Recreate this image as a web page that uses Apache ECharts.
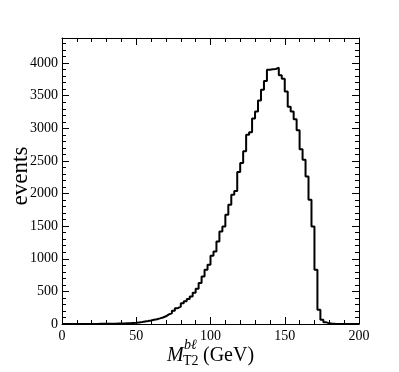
<!DOCTYPE html>
<html>
<head>
<meta charset="utf-8">
<script src="https://cdn.jsdelivr.net/npm/echarts@6/dist/echarts.min.js"></script>
<style>html,body{margin:0;padding:0;background:#fff;}#c{width:399px;height:372px;}</style>
</head>
<body>
<div id="c"></div>
<script>
// Bin lower edges (GeV), bin width 2 GeV
var binEdges = [0,2,4,6,8,10,12,14,16,18,20,22,24,26,28,30,32,34,36,38,40,42,44,46,48,50,52,54,56,58,60,62,64,66,68,70,72,74,76,78,80,82,84,86,88,90,92,94,96,98,100,102,104,106,108,110,112,114,116,118,120,122,124,126,128,130,132,134,136,138,140,142,144,146,148,150,152,154,156,158,160,162,164,166,168,170,172,174,176,178,180,182,184,186,188,190,192,194,196,198];
var histEnd = 200;
// Event counts per bin
var events = [0,0,0,0,0,0,0,0,0,0,
  1,1,2,2,3,3,4,5,6,7,
  8,10,12,15,18,24,30,38,46,55,
  65,74,86,100,118,148,165,205,242,268,
  318,350,385,420,478,540,628,730,832,909,
  1047,1113,1266,1420,1496,1676,1829,1982,2040,2330,
  2470,2650,2900,2940,3150,3260,3425,3590,3725,3900,
  3905,3910,3930,3815,3760,3566,3330,3260,3140,2970,
  2680,2520,2263,1906,1496,832,219,66,25,10,
  5,2,1,0,0,0,0,0,0,0];
var xTicks = [0,50,100,150,200];
var yTicks = [0,500,1000,1500,2000,2500,3000,3500,4000];
var xLabel = {sym:'M', sup:'b\u2113', sub:'T2', unit:'(GeV)'};
var yLabel = 'events';

var data = binEdges.map(function(x,i){return [x, events[i]];});
data.push([histEnd, events[events.length-1]]);

var font = "'Liberation Serif', 'DejaVu Serif', serif";
var yMax = 4385;
function xAx(pos, labels){
  return {type:'value', min:xTicks[0], max:xTicks[xTicks.length-1], interval:50, position:pos,
    axisLine:{show:true,onZero:false,lineStyle:{color:'#000',width:1}},
    axisTick:{show:true,inside:true,length:7,lineStyle:{color:'#000'}},
    minorTick:{show:true,splitNumber:5,length:4,lineStyle:{color:'#000'}},
    splitLine:{show:false},minorSplitLine:{show:false},
    axisLabel:{show:labels,color:'#000',fontFamily:font,fontSize:14,margin:5}};
}
function yAx(pos, iv, len, labels, line){
  return {type:'value', min:0, max:yMax, interval:iv, position:pos,
    axisLine:{show:line,onZero:false,lineStyle:{color:'#000',width:1}},
    axisTick:{show:true,inside:true,length:len,lineStyle:{color:'#000'}},
    splitLine:{show:false},
    axisLabel:{show:labels,showMaxLabel:false,color:'#000',fontFamily:font,fontSize:14,margin:4,
      formatter:function(v){return yTicks.indexOf(v)>=0?String(v):'';}}};
}
var chart = echarts.init(document.getElementById('c'), null, {renderer:'canvas'});
chart.setOption({
  animation:false,
  backgroundColor:'#fff',
  grid:{left:62,top:38,width:297,height:286},
  xAxis:[xAx('bottom',true), xAx('top',false)],
  yAxis:[yAx('left',500,7,true,true), yAx('left',100,4,false,false), yAx('right',500,7,false,true), yAx('right',100,4,false,false)],
  series:[{type:'line', step:'end', data:data, xAxisIndex:0, yAxisIndex:0, showSymbol:false,
    lineStyle:{color:'#000',width:2}, silent:true}],
  graphic:[
    {type:'text', x:21, y:176, rotation:Math.PI/2,
     style:{text:yLabel, font:"23px "+font, fill:'#000', textAlign:'center', textVerticalAlign:'middle'}},
    {type:'text', x:167, y:355.5, style:{text:xLabel.sym, font:"italic 20px "+font, fill:'#000', textAlign:'left', textVerticalAlign:'middle'}},
    {type:'text', x:184, y:345, style:{text:xLabel.sup, font:"italic 14px "+font, fill:'#000', textAlign:'left', textVerticalAlign:'middle'}},
    {type:'text', x:183, y:361.5, style:{text:xLabel.sub, font:"14px "+font, fill:'#000', textAlign:'left', textVerticalAlign:'middle'}},
    {type:'text', x:203, y:355.5, style:{text:xLabel.unit, font:"20px "+font, fill:'#000', textAlign:'left', textVerticalAlign:'middle'}}
  ]
});
</script>
</body>
</html>
